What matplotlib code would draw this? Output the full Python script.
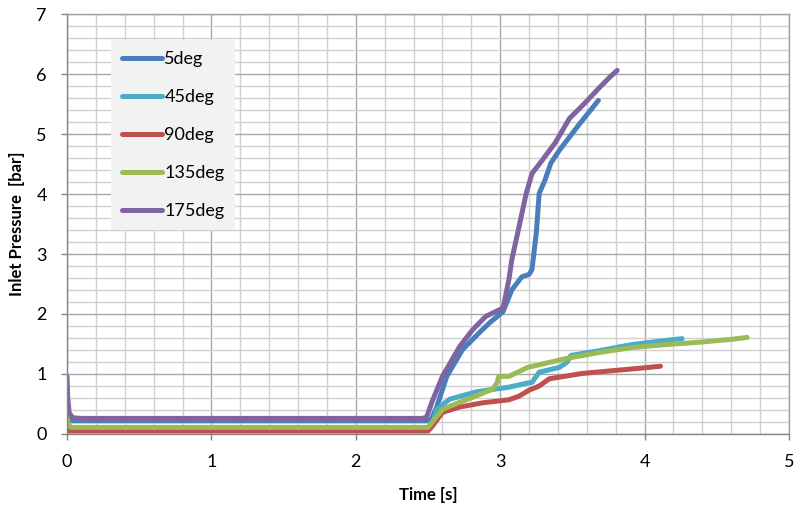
import matplotlib
matplotlib.use("Agg")
import matplotlib.pyplot as plt
from matplotlib.ticker import MultipleLocator

plt.rcParams['font.family'] = ['Lato', 'DejaVu Sans']

# Inlet pressure traces for each valve angle
t_5 = [0, 0.03, 2.50, 2.52, 2.56, 2.63, 2.74, 2.86, 2.93, 3.02, 3.08, 3.15, 3.20, 3.22,
       3.25, 3.27, 3.31, 3.35, 3.41, 3.48, 3.55, 3.62, 3.68]
p_5 = [0.30, 0.22, 0.22, 0.23, 0.45, 0.96, 1.41, 1.70, 1.86, 2.04, 2.40, 2.62, 2.66, 2.74,
       3.35, 4.01, 4.23, 4.51, 4.73, 4.95, 5.17, 5.38, 5.56]

t_45 = [0, 0.02, 2.50, 2.53, 2.56, 2.65, 2.83, 2.97, 3.06, 3.19, 3.22, 3.27, 3.41, 3.46,
        3.49, 3.69, 3.91, 4.15, 4.26]
p_45 = [0.20, 0.10, 0.10, 0.15, 0.41, 0.58, 0.70, 0.75, 0.78, 0.85, 0.86, 1.03, 1.11, 1.19,
        1.31, 1.39, 1.49, 1.56, 1.59]

t_90 = [0, 2.50, 2.53, 2.60, 2.72, 2.88, 3.06, 3.13, 3.20, 3.27, 3.34, 3.57, 3.80,
        4.03, 4.11]
p_90 = [0.05, 0.05, 0.13, 0.36, 0.45, 0.52, 0.57, 0.63, 0.73, 0.80, 0.92, 1.01, 1.06,
        1.11, 1.13]

t_135 = [0, 0.01, 0.03, 2.50, 2.53, 2.60, 2.72, 2.83, 2.95, 2.98, 2.99, 3.06, 3.19, 3.46,
         3.69, 3.91, 4.15, 4.38, 4.61, 4.71]
p_135 = [0.30, 0.15, 0.11, 0.11, 0.20, 0.41, 0.53, 0.63, 0.75, 0.86, 0.96, 0.96, 1.11, 1.26,
         1.36, 1.44, 1.49, 1.53, 1.58, 1.61]

t_175 = [0, 0.005, 0.015, 0.04, 0.10, 2.46, 2.49, 2.53, 2.60, 2.72, 2.81, 2.90, 3.02,
         3.06, 3.08, 3.13, 3.18, 3.22, 3.29, 3.38, 3.48, 3.58, 3.69, 3.76, 3.81]
p_175 = [0.96, 0.60, 0.35, 0.27, 0.26, 0.26, 0.28, 0.55, 0.96, 1.46, 1.74, 1.96, 2.10,
         2.57, 2.90, 3.45, 4.01, 4.34, 4.56, 4.85, 5.26, 5.50, 5.78, 5.95, 6.06]

series = [
    ("5deg", t_5, p_5, "#4A7EBB"),
    ("45deg", t_45, p_45, "#4BACC6"),
    ("90deg", t_90, p_90, "#C0504D"),
    ("135deg", t_135, p_135, "#9BBB59"),
    ("175deg", t_175, p_175, "#8064A2"),
]

fig = plt.figure(figsize=(7.94, 5.11), dpi=100)
ax = fig.add_axes([67 / 794, 1 - 434 / 511, (789 - 67) / 794, (434 - 14) / 511])

for label, t, p, c in series:
    ax.plot(t, p, color=c, lw=3.6, label=label, solid_capstyle='round',
            solid_joinstyle='round')

ax.set_xlim(0, 5)
ax.set_ylim(0, 7)
ax.xaxis.set_major_locator(MultipleLocator(1))
ax.yaxis.set_major_locator(MultipleLocator(1))
ax.xaxis.set_minor_locator(MultipleLocator(0.2))
ax.yaxis.set_minor_locator(MultipleLocator(0.2))

ax.grid(which='major', color='#a6a6a6', lw=1.0)
ax.grid(which='minor', color='#d0d0d0', lw=1.0)
ax.set_axisbelow(True)

for s in ax.spines.values():
    s.set_color('#a0a0a0')
    s.set_linewidth(1.0)
ax.spines['left'].set_color('#868686')
ax.spines['bottom'].set_color('#868686')

ax.tick_params(which='major', direction='out', length=4.5, width=1.0, color='#868686',
               labelsize=13, pad=10, labelcolor='black')
ax.tick_params(which='minor', length=0)

ax.set_xlabel("Time [s]", fontsize=12, fontweight='bold', labelpad=12)
ax.set_ylabel("Inlet Pressure  [bar]", fontsize=12, fontweight='bold', labelpad=8)

leg = ax.legend(loc='upper left', bbox_to_anchor=(111 / 794, 1 - 40 / 511),
                bbox_transform=fig.transFigure, fontsize=13, frameon=True,
                fancybox=False, handlelength=2.2, handletextpad=0.15,
                labelspacing=1.22, borderpad=0.6, borderaxespad=0)
leg.get_frame().set_facecolor('#f2f2f2')
leg.get_frame().set_edgecolor('none')
leg.get_frame().set_alpha(1.0)
for h in leg.get_lines():
    h.set_linewidth(3.6)

fig.savefig("out.png", dpi=100)
